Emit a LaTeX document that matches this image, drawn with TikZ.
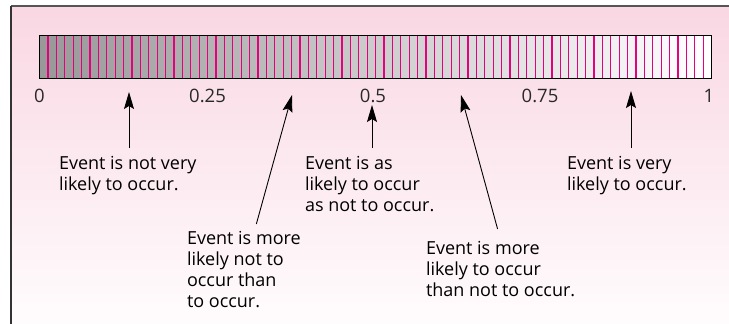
\documentclass[tikz,border=0pt]{standalone}
\usepackage{fontspec}
\setmainfont{Open Sans}
\usepackage{tikz}
\usetikzlibrary{arrows.meta,calc,positioning}
\definecolor{bgpink}{RGB}{249,215,227}
\definecolor{bgwhite}{RGB}{255,252,253}
\definecolor{stripe}{RGB}{230,0,126}
\definecolor{framegray}{RGB}{85,85,85}
\definecolor{labelgray}{RGB}{40,40,40}
\tikzset{
  remark/.style={align=left, font=\fontsize{18}{21}\selectfont, inner sep=0pt, outer sep=7pt},
  scalelabel/.style={font=\fontsize{18.5}{20}\selectfont, text=labelgray, inner sep=0pt},
  pointer/.style={-{Stealth[length=17pt,width=10pt,inset=3pt]}, line width=0.9pt}
}

\begin{document}
\begin{tikzpicture}[x=1pt, y=-1pt]
\useasboundingbox (0,0) rectangle (729,324);

% background and frame
\shade[top color=bgpink, bottom color=bgwhite] (11,6) rectangle (729,324);
\draw[framegray, line width=2.5pt] (11,6) -- (729,6);
\draw[black!80, line width=1.3pt] (11,6) -- (11,324);

% probability bar
\foreach \i in {0,...,79}{
  \pgfmathsetmacro{\shadeval}{40*(1-\i/79)}
  \fill[black!\shadeval] ({39.5+8.4*\i},35) rectangle ({39.5+8.4*(\i+1)},78);
}
\foreach \i in {1,...,79}{
  \draw[stripe, line width=1.2pt] ({39.5+8.4*\i},35) -- ({39.5+8.4*\i},78);
}
\draw[line width=0.9pt] (39.5,35) rectangle (711.5,78);

% scale labels
\node[scalelabel] (zero)  at (39.5,96)  {0};
\node[scalelabel] (quart) at (207.5,96) {0.25};
\node[scalelabel] (half)  at (373,96)   {0.5};
\node[scalelabel] (three) at (540,96)   {0.75};
\node[scalelabel] (one)   at (709,96)   {1};

% arrow tips
\coordinate (tipA) at (129,92);
\coordinate (tipB) at (292,95);
\coordinate (tipC) at (372,105);
\coordinate (tipD) at (461,95);
\coordinate (tipE) at (631,91);

% remarks
\node[remark, anchor=north west] (notvery) at (52,149)
  {Event is not very\\likely to occur.};
\node[remark, anchor=north west] (lessprob) at (180,224)
  {Event is more\\likely not to\\occur than\\to occur.};
\node[remark, anchor=north west] (evenprob) at (298,149)
  {Event is as\\likely to occur\\as not to occur.};
\node[remark, anchor=north west] (moreprob) at (419,234)
  {Event is more\\likely to occur\\than not to occur.};
\node[remark, anchor=north west] (very) at (560,149)
  {Event is very\\likely to occur.};

% arrows
\draw[pointer] (notvery.north -| tipA) ++(0,-1) -- (tipA);
\draw[pointer] (lessprob) -- (tipB);
\draw[pointer] (evenprob.north -| tipC) ++(0,-1) -- (tipC);
\draw[pointer] (moreprob.north) ++(-3,-5) -- (tipD);
\draw[pointer] (very.north -| tipE) ++(0,-1) -- (tipE);
\end{tikzpicture}
\end{document}
